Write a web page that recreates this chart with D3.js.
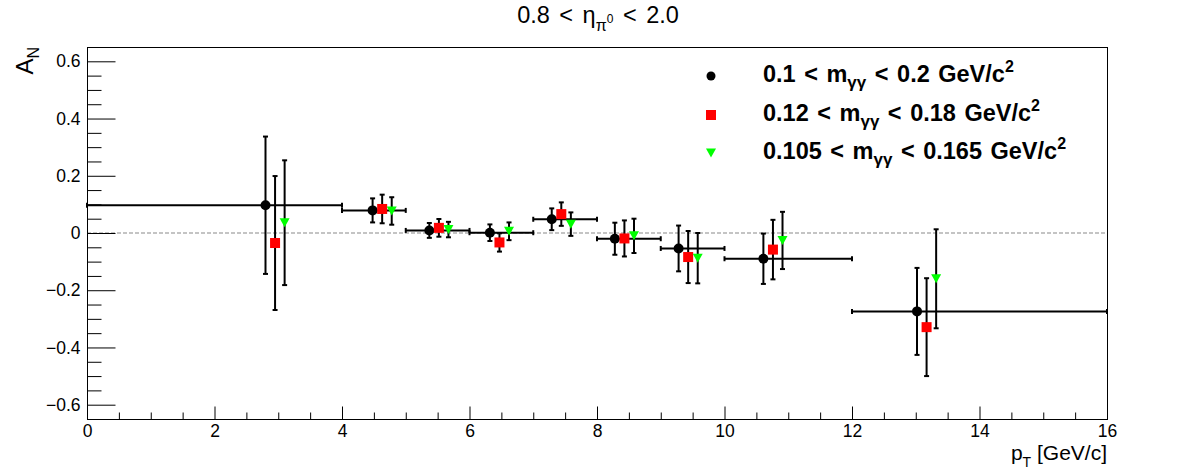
<!DOCTYPE html>
<html>
<head>
<meta charset="utf-8">
<script src="https://cdn.jsdelivr.net/npm/d3@7"></script>
<style>
  body { margin: 0; background: #fff; }
  svg { display: block; font-family: "Liberation Sans", Arial, sans-serif; }
</style>
</head>
<body>
<svg id="chart" width="1196" height="472"></svg>
<script>
// --------------------------------------
// DATA
// --------------------------------------
var binLo   = [0, 4, 5, 6, 7, 8, 9, 10, 12];
var binHi   = [4, 5, 6, 7, 8, 9, 10, 12, 16];
var ptMean  = [2.80, 4.48, 5.37, 6.32, 7.29, 8.28, 9.28, 10.61, 13.02];

var anBlack  = [0.097, 0.079, 0.009, 0.001, 0.048, -0.020, -0.054, -0.090, -0.274];
var errBlack = [0.240, 0.042, 0.026, 0.029, 0.038, 0.056, 0.080, 0.088, 0.152];
var anRed    = [-0.035, 0.084, 0.018, -0.033, 0.066, -0.019, -0.084, -0.058, -0.329];
var errRed   = [0.234, 0.050, 0.031, 0.032, 0.041, 0.063, 0.091, 0.104, 0.171];
var anGreen  = [0.036, 0.077, 0.012, 0.006, 0.031, -0.010, -0.088, -0.026, -0.160];
var errGreen = [0.218, 0.048, 0.027, 0.031, 0.041, 0.060, 0.088, 0.100, 0.173];

// red / green are drawn shifted in pT so they don't overlap
var shiftRed = 0.15, shiftGreen = 0.30;

var xMajor = [0, 2, 4, 6, 8, 10, 12, 14, 16];
var yMajor = [-0.6, -0.4, -0.2, 0, 0.2, 0.4, 0.6];

// --------------------------------------
// SETUP
// --------------------------------------
var M = { left: 87, right: 1107, top: 47, bottom: 419 };
var svg = d3.select('#chart');

var x = d3.scaleLinear().domain([0, 16]).range([M.left, M.right]);
var y = d3.scaleLinear().domain([-0.65, 0.65]).range([M.bottom, M.top]);

// minor ticks
var xMinor = d3.range(0, 16.001, 0.5).filter(function(v){ return xMajor.indexOf(v) < 0; });
var yMinor = d3.range(-0.65, 0.651, 0.05).map(function(v){ return Math.round(v*100)/100; })
    .filter(function(v){ return yMajor.indexOf(v) < 0; });

// zero line
svg.append('line')
    .attr('x1', x(0)).attr('x2', x(16))
    .attr('y1', y(0)).attr('y2', y(0))
    .attr('stroke', '#c4c4c4').attr('stroke-width', 2)
    .attr('stroke-dasharray', '4,2');

// frame
svg.append('rect')
    .attr('x', M.left + 0.5).attr('y', M.top + 0.5)
    .attr('width', M.right - M.left).attr('height', M.bottom - M.top)
    .attr('fill', 'none').attr('stroke', '#000').attr('stroke-width', 1);

// axes
function styleAxis(g){
    g.select('.domain').remove();
    g.selectAll('line').attr('stroke', '#000');
    g.selectAll('text').attr('fill', '#000').style('font-size', '17.5px')
        .style('font-family', '"Liberation Sans", Arial, sans-serif');
}

svg.append('g')
    .attr('transform', 'translate(0,' + (M.bottom + 0.5) + ')')
    .call(d3.axisBottom(x).tickValues(xMajor).tickSize(-13).tickPadding(5)
        .tickFormat(d3.format('d')))
    .call(styleAxis);
svg.append('g')
    .attr('transform', 'translate(0,' + (M.bottom + 0.5) + ')')
    .call(d3.axisBottom(x).tickValues(xMinor).tickSize(-7).tickFormat(''))
    .call(styleAxis);

svg.append('g')
    .attr('transform', 'translate(' + (M.left + 0.5) + ',0)')
    .call(d3.axisLeft(y).tickValues(yMajor).tickSize(-28).tickPadding(7)
        .tickFormat(function(d){ return d === 0 ? '0' : d3.format('.1f')(d); }))
    .call(styleAxis);
svg.append('g')
    .attr('transform', 'translate(' + (M.left + 0.5) + ',0)')
    .call(d3.axisLeft(y).tickValues(yMinor).tickSize(-14).tickFormat(''))
    .call(styleAxis);

// --------------------------------------
// DATA POINTS
// --------------------------------------
var cap = 2.5;

function drawSeries(an, err, shift, withX){
    var g = svg.append('g');
    an.forEach(function(v, i){
        var px = x(ptMean[i] + shift);
        var y1 = y(v + err[i]), y2 = y(v - err[i]), py = y(v);
        g.append('line').attr('x1', px).attr('x2', px).attr('y1', y1).attr('y2', y2)
            .attr('stroke', '#000').attr('stroke-width', 2);
        [y1, y2].forEach(function(yy){
            g.append('line').attr('x1', px - cap).attr('x2', px + cap)
                .attr('y1', yy).attr('y2', yy)
                .attr('stroke', '#000').attr('stroke-width', 2);
        });
        if(withX){
            var xa = x(binLo[i]), xb = x(binHi[i]);
            g.append('line').attr('x1', xa).attr('x2', xb).attr('y1', py).attr('y2', py)
                .attr('stroke', '#000').attr('stroke-width', 2);
            [xa, xb].forEach(function(xx){
                g.append('line').attr('x1', xx).attr('x2', xx)
                    .attr('y1', py - cap).attr('y2', py + cap)
                    .attr('stroke', '#000').attr('stroke-width', 2);
            });
        }
    });
    return g;
}

function circleMarker(g, px, py, r){
    g.append('circle').attr('cx', px).attr('cy', py).attr('r', r).attr('fill', '#000');
}
function squareMarker(g, px, py, s){
    g.append('rect').attr('x', px - s/2).attr('y', py - s/2)
        .attr('width', s).attr('height', s).attr('fill', '#ff0000');
}
function triMarker(g, px, py, w){
    var h = w * 0.9;
    g.append('path')
        .attr('d', 'M' + (px - w/2) + ',' + (py - h/2) + 'L' + (px + w/2) + ',' + (py - h/2) +
            'L' + px + ',' + (py + h/2) + 'Z')
        .attr('fill', '#00ff00');
}

var gBlack = drawSeries(anBlack, errBlack, 0, true);
var gRed = drawSeries(anRed, errRed, shiftRed, false);
var gGreen = drawSeries(anGreen, errGreen, shiftGreen, false);

anBlack.forEach(function(v, i){ circleMarker(gBlack, x(ptMean[i]), y(v), 5); });
anRed.forEach(function(v, i){ squareMarker(gRed, x(ptMean[i] + shiftRed), y(v), 10); });
anGreen.forEach(function(v, i){ triMarker(gGreen, x(ptMean[i] + shiftGreen), y(v), 10); });

// --------------------------------------
// TEXT
// --------------------------------------
// title
var title = svg.append('text')
    .attr('x', 598).attr('y', 23).attr('text-anchor', 'middle')
    .style('font-size', '23.5px').style('word-spacing', '3px');
title.append('tspan').text('0.8 < η');
title.append('tspan').attr('dy', 8).style('font-size', '16px').text('π');
title.append('tspan').attr('dy', -8).style('font-size', '12px').text('0');
title.append('tspan').attr('dy', 0).text(' < 2.0');

// y axis title
var yt = svg.append('text')
    .attr('transform', 'translate(33,' + M.top + ') rotate(-90)')
    .attr('text-anchor', 'end')
    .style('font-size', '24px');
yt.append('tspan').text('A');
yt.append('tspan').attr('dy', 6).style('font-size', '16px').text('N');

// x axis title
var xt = svg.append('text')
    .attr('x', M.right).attr('y', 460).attr('text-anchor', 'end')
    .style('font-size', '21px');
xt.append('tspan').text('p');
xt.append('tspan').attr('dy', 7).style('font-size', '14px').text('T');
xt.append('tspan').attr('dy', -7).text(' [GeV/c]');

// legend
var legLabels = [['0.1', '0.2'], ['0.12', '0.18'], ['0.105', '0.165']];
var legY = [76, 115, 153];
var legBase = [82, 121, 159];
var lg = svg.append('g');
circleMarker(lg, 711, legY[0], 4.5);
squareMarker(lg, 711, legY[1], 10);
triMarker(lg, 711, legY[2], 10);

legLabels.forEach(function(d, i){
    var t = lg.append('text').attr('x', 763).attr('y', legBase[i])
        .style('font-size', '23.5px').style('font-weight', 'bold')
        .style('word-spacing', '2px');
    t.append('tspan').text(d[0] + ' < m');
    t.append('tspan').attr('dy', 6).style('font-size', '17px').text('γγ');
    t.append('tspan').attr('dy', -6).text(' < ' + d[1] + ' GeV/c');
    t.append('tspan').attr('dy', -10).style('font-size', '16px').text('2');
});
</script>
</body>
</html>
